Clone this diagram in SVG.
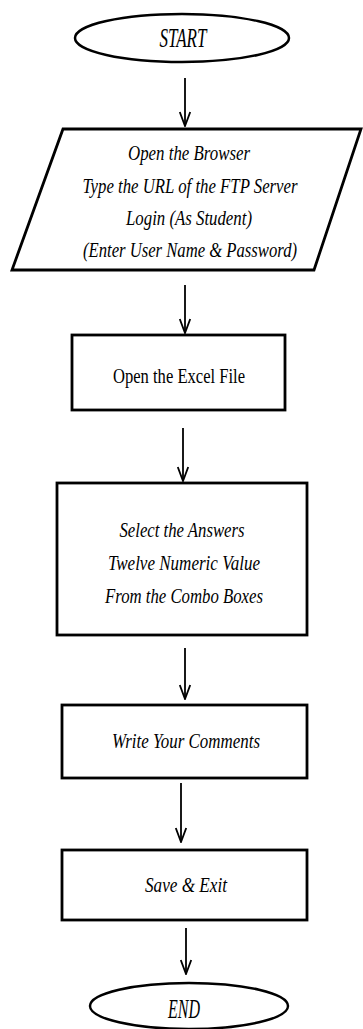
<svg xmlns="http://www.w3.org/2000/svg" width="363" height="1029" viewBox="0 0 363 1029">
<style>
.sh{fill:#fff;stroke:#000;stroke-width:2.8}
.el{fill:#fff;stroke:#000;stroke-width:2.5}
.t{font-family:"Liberation Serif","DejaVu Serif",serif;font-style:italic;fill:#000;text-anchor:middle}
.u{font-family:"Liberation Serif","DejaVu Serif",serif;fill:#000;text-anchor:middle}
.c{stroke:#000;stroke-width:1.8;fill:none}
</style>
<defs>
<marker id="ah" viewBox="0 0 16 12" refX="15" refY="6" markerWidth="16" markerHeight="12" markerUnits="userSpaceOnUse" orient="auto">
<polyline points="1,0.8 15,6 1,11.2" fill="none" stroke="#000" stroke-width="1.8"/>
</marker>
</defs>
<g id="start">
<ellipse class="el" cx="182" cy="38" rx="107" ry="24"/>
<text class="t" x="183" y="47" font-size="27" textLength="47" lengthAdjust="spacingAndGlyphs">START</text>
</g>
<g id="input">
<polygon class="sh" points="63,129 361,129 314,270 12,270"/>
<text class="t" x="189" y="160" font-size="21" textLength="122" lengthAdjust="spacingAndGlyphs">Open the Browser</text>
<text class="t" x="190" y="193" font-size="21" textLength="215" lengthAdjust="spacingAndGlyphs">Type the URL of the FTP Server</text>
<text class="t" x="189" y="225" font-size="21" textLength="126" lengthAdjust="spacingAndGlyphs">Login (As Student)</text>
<text class="t" x="190" y="257" font-size="21" textLength="214" lengthAdjust="spacingAndGlyphs">(Enter User Name &amp; Password)</text>
</g>
<g id="excel">
<rect class="sh" x="72" y="335" width="213" height="75"/>
<text class="u" x="179" y="383" font-size="22" textLength="132" lengthAdjust="spacingAndGlyphs">Open the Excel File</text>
</g>
<g id="select">
<rect class="sh" x="57" y="483" width="250" height="152"/>
<text class="t" x="182" y="537" font-size="22" textLength="125" lengthAdjust="spacingAndGlyphs">Select the Answers</text>
<text class="t" x="184" y="570" font-size="22" textLength="152" lengthAdjust="spacingAndGlyphs">Twelve Numeric Value</text>
<text class="t" x="184" y="603" font-size="22" textLength="158" lengthAdjust="spacingAndGlyphs">From the Combo Boxes</text>
</g>
<g id="comments">
<rect class="sh" x="62" y="705" width="245" height="73"/>
<text class="t" x="186" y="748" font-size="21" textLength="148" lengthAdjust="spacingAndGlyphs">Write Your Comments</text>
</g>
<g id="save">
<rect class="sh" x="62" y="850" width="245" height="70"/>
<text class="t" x="186" y="892" font-size="22" textLength="82" lengthAdjust="spacingAndGlyphs">Save &amp; Exit</text>
</g>
<g id="end">
<ellipse class="el" cx="189" cy="1006" rx="99" ry="23"/>
<text class="t" x="184" y="1018" font-size="27" textLength="32" lengthAdjust="spacingAndGlyphs">END</text>
</g>
<g id="connectors">
<line class="c" x1="185" y1="78" x2="185" y2="126" marker-end="url(#ah)"/>
<line class="c" x1="185" y1="285" x2="185" y2="333" marker-end="url(#ah)"/>
<line class="c" x1="183" y1="428" x2="183" y2="481" marker-end="url(#ah)"/>
<line class="c" x1="185" y1="648" x2="185" y2="699" marker-end="url(#ah)"/>
<line class="c" x1="181" y1="783" x2="181" y2="842" marker-end="url(#ah)"/>
<line class="c" x1="186" y1="928" x2="186" y2="974" marker-end="url(#ah)"/>
</g>
</svg>
